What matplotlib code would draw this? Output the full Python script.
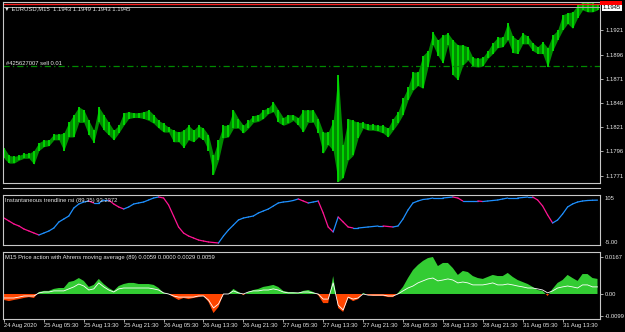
import matplotlib
matplotlib.use("Agg")
import matplotlib.pyplot as plt
from matplotlib import font_manager
from matplotlib.lines import Line2D
from matplotlib.patches import Rectangle
import numpy as np

# ---------------- data (hourly samples) ----------------
price_high = [1.1800, 1.1792, 1.1791, 1.1792, 1.1794, 1.1794, 1.1797, 1.1805, 1.1808, 1.1808,
              1.1814, 1.1814, 1.1815, 1.1826, 1.1834, 1.1842, 1.1839, 1.1828, 1.1818, 1.1842,
              1.1834, 1.1826, 1.1818, 1.1823, 1.1836, 1.1837, 1.1836, 1.1836, 1.1837, 1.1839,
              1.1834, 1.1828, 1.1825, 1.1821, 1.1818, 1.1816, 1.1818, 1.1823, 1.1818, 1.1823,
              1.1820, 1.1813, 1.1792, 1.1808, 1.1823, 1.1823, 1.1839, 1.1830, 1.1823, 1.1828,
              1.1833, 1.1834, 1.1839, 1.1841, 1.1847, 1.1839, 1.1831, 1.1834, 1.1834, 1.1831,
              1.1839, 1.1839, 1.1839, 1.1830, 1.1816, 1.1816, 1.1828, 1.1875, 1.1803, 1.1830,
              1.1828, 1.1826, 1.1826, 1.1824, 1.1824, 1.1823, 1.1823, 1.1820, 1.1830, 1.1837,
              1.1851, 1.1862, 1.1878, 1.1878, 1.1895, 1.1900, 1.1919, 1.1911, 1.1916, 1.1918,
              1.1911, 1.1906, 1.1906, 1.1904, 1.1893, 1.1892, 1.1893, 1.1900, 1.1908, 1.1914,
              1.1914, 1.1929, 1.1915, 1.1911, 1.1918, 1.1915, 1.1908, 1.1904, 1.1909, 1.1903,
              1.1916, 1.1921, 1.1937, 1.1939, 1.1940, 1.1947, 1.1950, 1.1950, 1.1949, 1.1948]
price_low = [1.1789, 1.1784, 1.1784, 1.1787, 1.1789, 1.1789, 1.1783, 1.1797, 1.1801, 1.1802,
             1.1808, 1.1808, 1.1797, 1.1811, 1.1811, 1.1826, 1.1826, 1.1813, 1.1805, 1.1826,
             1.1818, 1.1813, 1.1808, 1.1815, 1.1823, 1.1830, 1.1831, 1.1831, 1.1830, 1.1828,
             1.1825, 1.1820, 1.1816, 1.1816, 1.1806, 1.1806, 1.1800, 1.1808, 1.1806, 1.1811,
             1.1808, 1.1797, 1.1772, 1.1787, 1.1810, 1.1811, 1.1820, 1.1820, 1.1815, 1.1820,
             1.1826, 1.1827, 1.1830, 1.1835, 1.1837, 1.1826, 1.1823, 1.1825, 1.1828, 1.1823,
             1.1816, 1.1826, 1.1826, 1.1815, 1.1794, 1.1803, 1.1797, 1.1765, 1.1769, 1.1787,
             1.1792, 1.1810, 1.1820, 1.1818, 1.1818, 1.1817, 1.1815, 1.1811, 1.1818, 1.1825,
             1.1834, 1.1849, 1.1859, 1.1864, 1.1861, 1.1883, 1.1906, 1.1895, 1.1887, 1.1906,
             1.1875, 1.1870, 1.1885, 1.1890, 1.1884, 1.1883, 1.1884, 1.1892, 1.1897, 1.1903,
             1.1904, 1.1911, 1.1898, 1.1897, 1.1907, 1.1907, 1.1900, 1.1897, 1.1897, 1.1883,
             1.1900, 1.1911, 1.1921, 1.1928, 1.1923, 1.1934, 1.1942, 1.1940, 1.1940, 1.1942]

rsi = [54.3, 47.8, 41.3, 37.0, 30.4, 26.1, 21.7, 17.4, 21.7, 26.1,
       32.6, 45.7, 52.2, 58.7, 76.1, 84.8, 89.1, 91.3, 87.0, 87.0,
       93.5, 93.5, 84.8, 78.3, 73.9, 78.3, 84.8, 87.0, 89.1, 93.5,
       97.8, 100.0, 97.8, 82.6, 58.7, 34.8, 21.7, 15.2, 10.9, 6.5,
       4.3, 2.2, 1.1, 0.0, 15.2, 28.3, 39.1, 50.0, 54.3, 56.5,
       58.7, 65.2, 69.6, 73.9, 80.4, 87.0, 89.1, 90.2, 92.4, 95.7,
       91.3, 87.0, 89.1, 91.3, 65.2, 34.8, 24.0, 56.5, 45.7, 34.8,
       32.6, 32.6, 33.7, 34.8, 35.9, 37.0, 37.0, 35.9, 34.8, 37.0,
       52.2, 71.7, 87.0, 91.3, 94.6, 95.7, 97.8, 97.8, 97.8, 98.9,
       100.0, 97.8, 91.3, 91.3, 91.3, 91.3, 90.2, 91.3, 92.4, 93.5,
       95.7, 97.8, 97.8, 97.8, 98.9, 100.0, 100.0, 93.5, 80.4, 60.9,
       43.5, 50.0, 63.0, 78.3, 84.8, 89.1, 91.3, 92.4, 92.9, 93.2]

pa_fill = [-0.0027, -0.0032, -0.0027, -0.0023, -0.0018, -0.0014, -0.0018, 0.0009, 0.0014, 0.0014,
           0.0023, 0.0027, 0.0027, 0.0054, 0.0059, 0.0072, 0.0059, 0.0032, 0.0041, 0.0068,
           0.0045, 0.0027, 0.0014, 0.0036, 0.0045, 0.0050, 0.0050, 0.0045, 0.0045, 0.0045,
           0.0041, 0.0027, 0.0005, 0.0000, -0.0014, -0.0027, -0.0018, -0.0023, -0.0018, -0.0014,
           -0.0009, -0.0036, -0.0086, -0.0059, 0.0000, 0.0000, 0.0023, 0.0009, -0.0005, 0.0009,
           0.0018, 0.0023, 0.0032, 0.0036, 0.0041, 0.0032, 0.0014, 0.0009, 0.0009, 0.0005,
           0.0014, 0.0018, 0.0009, -0.0005, -0.0041, -0.0041, 0.0081, -0.0063, -0.0081, -0.0018,
           -0.0032, -0.0023, 0.0005, -0.0005, -0.0009, -0.0009, -0.0009, -0.0014, -0.0014, 0.0005,
           0.0032, 0.0072, 0.0108, 0.0131, 0.0149, 0.0162, 0.0167, 0.0126, 0.0140, 0.0140,
           0.0117, 0.0086, 0.0104, 0.0099, 0.0081, 0.0072, 0.0068, 0.0077, 0.0086, 0.0081,
           0.0081, 0.0095, 0.0077, 0.0063, 0.0054, 0.0045, 0.0032, 0.0018, 0.0014, -0.0009,
           0.0023, 0.0050, 0.0063, 0.0086, 0.0072, 0.0059, 0.0090, 0.0090, 0.0072, 0.0068]

pa_ma = [-0.0018, -0.0018, -0.0018, -0.0014, -0.0009, -0.0009, -0.0009, 0.0005, 0.0009, 0.0009,
         0.0014, 0.0014, 0.0014, 0.0023, 0.0032, 0.0045, 0.0036, 0.0018, 0.0023, 0.0050,
         0.0032, 0.0018, 0.0009, 0.0023, 0.0027, 0.0027, 0.0027, 0.0027, 0.0027, 0.0027,
         0.0023, 0.0018, 0.0005, 0.0000, -0.0009, -0.0014, -0.0014, -0.0014, -0.0014, -0.0009,
         -0.0009, -0.0027, -0.0063, -0.0045, 0.0000, 0.0000, 0.0014, 0.0005, 0.0000, 0.0009,
         0.0014, 0.0014, 0.0018, 0.0018, 0.0023, 0.0018, 0.0009, 0.0005, 0.0005, 0.0005,
         0.0009, 0.0009, 0.0005, 0.0000, -0.0023, -0.0023, 0.0050, -0.0050, -0.0072, -0.0014,
         -0.0023, -0.0018, 0.0000, -0.0005, -0.0005, -0.0005, -0.0005, -0.0009, -0.0009, 0.0000,
         0.0014, 0.0027, 0.0036, 0.0050, 0.0059, 0.0068, 0.0072, 0.0059, 0.0063, 0.0068,
         0.0063, 0.0050, 0.0054, 0.0050, 0.0041, 0.0041, 0.0041, 0.0045, 0.0050, 0.0041,
         0.0041, 0.0045, 0.0041, 0.0036, 0.0032, 0.0027, 0.0027, 0.0023, 0.0018, 0.0005,
         0.0014, 0.0027, 0.0032, 0.0036, 0.0032, 0.0027, 0.0041, 0.0041, 0.0032, 0.0032]

time_labels = ["24 Aug 2020", "25 Aug 05:30", "25 Aug 13:30", "25 Aug 21:30", "26 Aug 05:30",
               "26 Aug 13:30", "26 Aug 21:30", "27 Aug 05:30", "27 Aug 13:30", "27 Aug 21:30",
               "28 Aug 05:30", "28 Aug 13:30", "28 Aug 21:30", "31 Aug 05:30", "31 Aug 13:30"]
price_ticks = [1.1771, 1.1796, 1.1821, 1.1846, 1.1871, 1.1896, 1.1921]
bid, ask = 1.1945, 1.1948
order_price = 1.1884
title_main = "EURUSD,M15  1.1943 1.1949 1.1943 1.1945"
order_label = "#425627007 sell 0.01"
title_rsi = "Instantaneous trendline rsi (89,35) 93.2372"
title_pa = "M15 Price action with Ahrens moving average (89) 0.0059 0.0000 0.0029 0.0059"
rsi_labels = ["105", "-5.00"]
pa_ticks = [0.0167, 0.0, -0.0099]
pa_ticklabels = ["0.0167", "0.00", "-0.0099"]

# ---------------- fonts ----------------
def pick(names):
    for nm in names:
        try:
            font_manager.findfont(nm, fallback_to_default=False)
            return nm
        except Exception:
            pass
    return "DejaVu Sans"

FONT = pick(["Liberation Sans Narrow", "Liberation Sans", "DejaVu Sans"])
plt.rcParams["font.family"] = [FONT, "DejaVu Sans"]
FS = 4.2
TXT = "#e6e6e6"
FRAME = "#c8c8c8"

W, H = 625, 332
fig = plt.figure(figsize=(W / 100, H / 100), dpi=100, facecolor="black")

def rect(top, bottom, left=2.5, right=599.5):
    return [left / W, 1 - bottom / H, (right - left) / W, (bottom - top) / H]

ax = fig.add_axes(rect(1.5, 183))
ax_r = fig.add_axes(rect(194.7, 245.3))
ax_p = fig.add_axes(rect(252, 319))

n = len(price_high)
x = np.arange(n)
XL = (-0.3, n - 0.6)

for a in (ax, ax_r, ax_p):
    a.set_facecolor("black")
    a.set_xlim(*XL)
    for s in a.spines.values():
        s.set_color(FRAME)
        s.set_linewidth(0.8)
    a.tick_params(axis="x", bottom=False, labelbottom=False)
    a.yaxis.tick_right()
    a.tick_params(axis="y", colors=FRAME, labelcolor=TXT, labelsize=FS, length=2, width=0.6, pad=2)

# ---------------- main price panel ----------------
hi = np.array(price_high)
lo = np.array(price_low)
ax.fill_between(x, lo, hi, color="#008c00", lw=0)
ax.vlines(x, lo, hi, color="#00dc00", lw=1.3)
ax.set_ylim(1.17635, 1.19507)
ax.set_yticks(price_ticks)
ax.set_yticklabels([f"{v:.4f}" for v in price_ticks])
ax.axhline(order_price, color="#008a00", lw=0.9, dashes=(5, 2.5, 1, 2.5))
ax.axhline(ask, color="#ff2020", lw=0.9)
ax.axhline(bid, color="#b0b0b0", lw=0.7)
ax.text(0.006, order_price, order_label, transform=ax.get_yaxis_transform(), color=TXT,
        fontsize=FS, va="bottom", ha="left")
ax.text(0.003, 0.972, "\u25bc " + title_main, transform=ax.transAxes, color=TXT,
        fontsize=FS, va="top", ha="left")
# price labels on the axis
fig.add_artist(Rectangle((600 / W, 1 - 4.5 / H), 22 / W, 3.5 / H, transform=fig.transFigure,
                         fc="#ff0000", ec="none"))
ax.annotate(f"{bid:.4f}", xy=(1, bid), xycoords=("axes fraction", "data"), xytext=(2.5, -0.5),
            textcoords="offset points", fontsize=FS, color="black", va="center", ha="left",
            bbox=dict(boxstyle="square,pad=0.2", fc="white", ec="none"), annotation_clip=False)

# ---------------- RSI panel ----------------
r = np.array(rsi)
for i in range(n - 1):
    col = "#1e90ff" if r[i + 1] >= r[i] else "#ff1493"
    ax_r.plot(x[i:i + 2], r[i:i + 2], color=col, lw=0.9, solid_capstyle="round")
ax_r.set_ylim(-5, 105)
ax_r.set_yticks([])
ax_r.text(1.008, 0.93, rsi_labels[0], transform=ax_r.transAxes, color=TXT, fontsize=FS, va="center")
ax_r.text(1.008, 0.05, rsi_labels[1], transform=ax_r.transAxes, color=TXT, fontsize=FS, va="center")
ax_r.text(0.004, 0.94, title_rsi, transform=ax_r.transAxes, color=TXT, fontsize=FS, va="top")

# ---------------- price action panel ----------------
pf = np.array(pa_fill)
ax_p.fill_between(x, 0, pf, where=pf >= 0, interpolate=True, color="#33cc33", lw=0)
ax_p.fill_between(x, 0, pf, where=pf <= 0, interpolate=True, color="#ff4500", lw=0)
ax_p.plot(x, pa_ma, color="white", lw=0.6)
ax_p.set_ylim(-0.01128, 0.01894)
ax_p.set_yticks(pa_ticks)
ax_p.set_yticklabels(pa_ticklabels)
ax_p.text(0.004, 0.95, title_pa, transform=ax_p.transAxes, color=TXT, fontsize=FS, va="top")

tick_pos = np.arange(len(time_labels)) * 8
ax_p.set_xticks(tick_pos)
ax_p.set_xticklabels(time_labels)
ax_p.tick_params(axis="x", bottom=True, labelbottom=True, colors=FRAME, labelcolor=TXT,
                 labelsize=FS, length=2.5, width=0.6, pad=0.5)
for lab in ax_p.get_xticklabels():
    lab.set_horizontalalignment("left")

# panel separator lines (figure pixels)
for yy in (188.5,):
    fig.add_artist(Line2D([2.5 / W, 599.5 / W], [1 - yy / H] * 2, color=FRAME, lw=0.8))

fig.savefig("out.png", dpi=100, facecolor="black")
